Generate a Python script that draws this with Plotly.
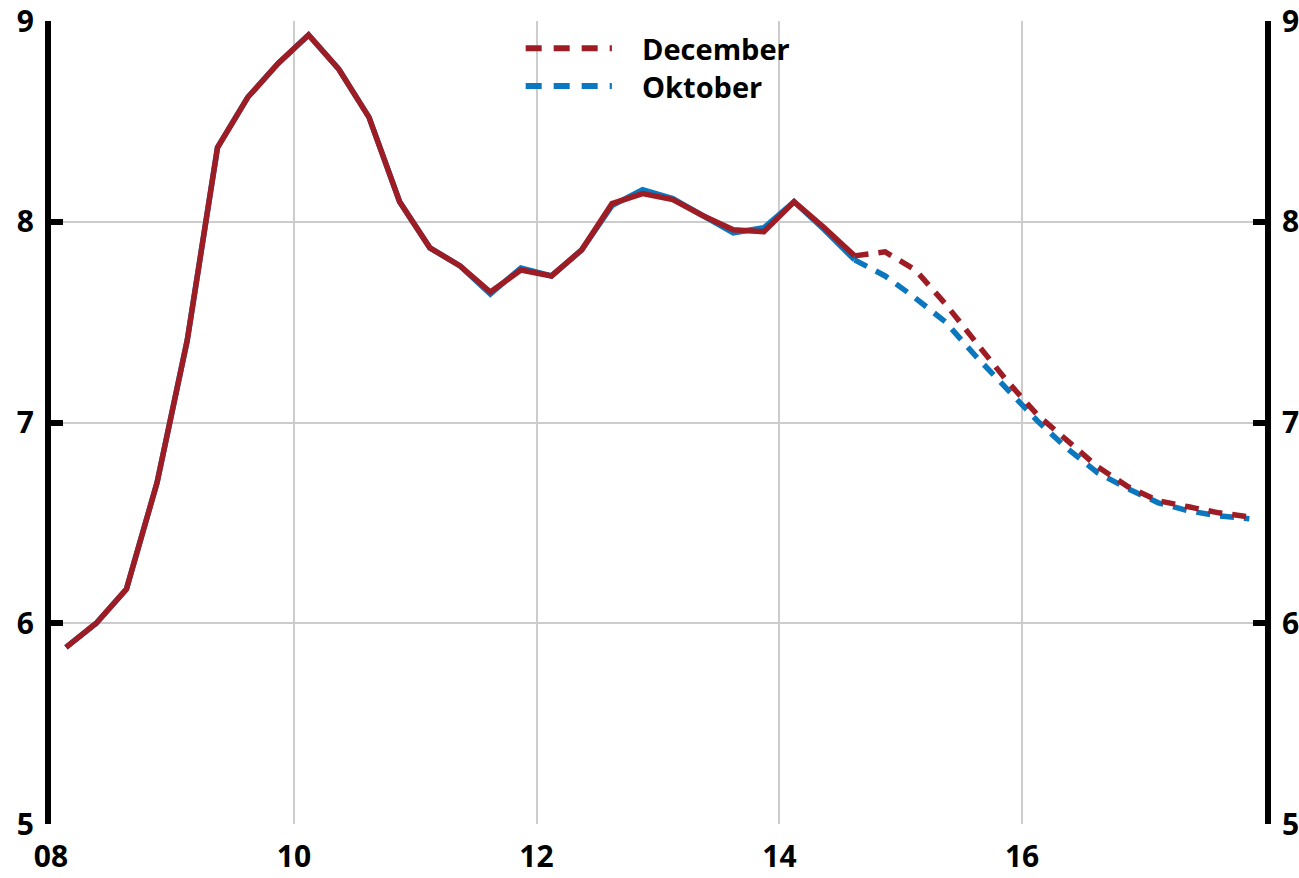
import pandas as pd
import plotly.graph_objects as go

# quarterly data 2008Q1 - 2017Q4
quarters = pd.period_range("2008Q1", "2017Q4", freq="Q")
# mid-quarter dates for plotting
dates = [(q.start_time + (q.end_time - q.start_time) / 2).strftime("%Y-%m-%d") for q in quarters]

december = [5.88, 6.00, 6.17, 6.70, 7.41, 8.37, 8.62, 8.79, 8.93, 8.76,
            8.52, 8.10, 7.87, 7.78, 7.65, 7.76, 7.73, 7.86, 8.09, 8.14,
            8.11, 8.03, 7.96, 7.95, 8.10, 7.97, 7.83, 7.85, 7.76, 7.59,
            7.40, 7.21, 7.04, 6.91, 6.78, 6.68, 6.61, 6.58, 6.55, 6.53]

oktober = [5.88, 6.00, 6.17, 6.70, 7.41, 8.37, 8.62, 8.79, 8.93, 8.76,
           8.52, 8.10, 7.87, 7.78, 7.64, 7.77, 7.73, 7.86, 8.08, 8.16,
           8.115, 8.03, 7.945, 7.97, 8.10, 7.96, 7.81, 7.73, 7.62, 7.50,
           7.33, 7.165, 7.01, 6.87, 6.75, 6.67, 6.60, 6.56, 6.535, 6.52]

n_hist = 27  # outcome up to 2014Q3, forecast after

tick_years = ["2008-01-01", "2010-01-01", "2012-01-01", "2014-01-01", "2016-01-01"]
tick_text = ["08", "10", "12", "14", "16"]
y_ticks = [5, 6, 7, 8, 9]

red = "#9E1D25"
blue = "#0B77BE"
dash = "14px,10px"
lw = 5.5

fig = go.Figure()

# Oktober underneath
fig.add_trace(go.Scatter(x=dates[:n_hist], y=oktober[:n_hist], mode="lines",
                         line=dict(color=blue, width=lw), showlegend=False))
fig.add_trace(go.Scatter(x=dates[n_hist - 1:], y=oktober[n_hist - 1:], mode="lines",
                         line=dict(color=blue, width=lw, dash=dash), showlegend=False))
# December on top
fig.add_trace(go.Scatter(x=dates[:n_hist], y=december[:n_hist], mode="lines",
                         line=dict(color=red, width=lw), showlegend=False, yaxis="y2"))
fig.add_trace(go.Scatter(x=dates[n_hist - 1:], y=december[n_hist - 1:], mode="lines",
                         line=dict(color=red, width=lw, dash=dash), showlegend=False, yaxis="y2"))

tick_font = dict(family="Open Sans", size=30, color="black", weight="bold")

yaxis_style = dict(range=[5, 9], tickvals=y_ticks, ticks="inside", ticklen=12, tickwidth=6,
                   tickcolor="black", showline=True, linecolor="black", linewidth=6,
                   tickfont=tick_font, zeroline=False, ticklabelstandoff=5, automargin=False,
                   ticklabeloverflow="allow")

fig.update_layout(
    width=1299, height=878,
    margin=dict(l=51, r=34, t=21, b=54),
    plot_bgcolor="white", paper_bgcolor="white",
    xaxis=dict(type="date", range=["2008-01-01", "2018-01-01"], tickvals=tick_years,
               ticktext=tick_text, showgrid=True, gridcolor="#CCCCCC", gridwidth=2,
               zeroline=False, showline=False, ticks="", tickfont=tick_font,
               ticklabelstandoff=12, automargin=False, ticklabeloverflow="allow"),
    yaxis=dict(showgrid=True, gridcolor="#CCCCCC", gridwidth=2, side="left", **yaxis_style),
    yaxis2=dict(overlaying="y", side="right", showgrid=False, **yaxis_style),
)

# legend drawn by hand so the line samples are as long as in the original
legend_items = [("December", red, 0.966), ("Oktober", blue, 0.919)]
for name, color, ypos in legend_items:
    fig.add_shape(type="line", xref="paper", yref="paper", x0=0.391, x1=0.462, y0=ypos, y1=ypos,
                  line=dict(color=color, width=6, dash="16px,12px"))
    fig.add_annotation(text=name, xref="paper", yref="paper", x=0.485, y=ypos, xanchor="left",
                       yanchor="middle", showarrow=False,
                       font=dict(family="Open Sans", size=29, color="black", weight="bold"))

# drop the default body margin so the figure fills the window exactly
fig.write_html("out.html", config={"displayModeBar": False},
               post_script="document.body.style.margin = '0';")
